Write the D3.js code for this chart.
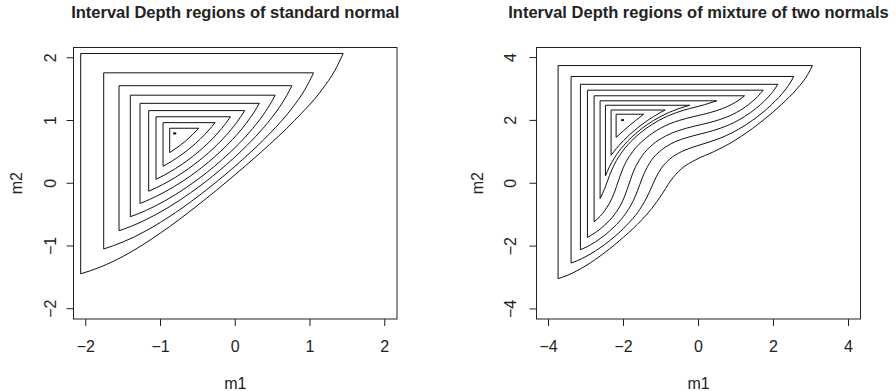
<!DOCTYPE html>
<html>
<head>
<meta charset="utf-8">
<script src="https://cdn.jsdelivr.net/npm/d3@7"></script>
<style>
  body { margin: 0; background: #fff; }
  svg { display: block; }
  text { font-family: "Liberation Sans", Arial, sans-serif; fill: #222; }
</style>
</head>
<body>
<svg id="chart" width="896" height="391"></svg>
<script>
// titles and axis labels
const titles = ["Interval Depth regions of standard normal", "Interval Depth regions of mixture of two normals"];
const xLabel = "m1";
const yLabel = "m2";

// ticks
const normalTicks = [-2, -1, 0, 1, 2];
const mixtureTicks = [-4, -2, 0, 2, 4];

// lower-right boundary of each depth region, (m1, m2), outer to inner
// region = left edge at first m1, top edge at last m2
const normalCurves = [
  [[-2.068,-1.444],[-1.8,-1.334],[-1.5,-1.165],[-1.0,-0.793],[-0.5,-0.349],[-0.069,0.069],[0.349,0.5],[0.793,1.0],[1.165,1.5],[1.334,1.8],[1.444,2.068]],
  [[-1.76,-1.048],[-1.5,-0.935],[-1.2,-0.762],[-0.8,-0.468],[-0.4,-0.119],[-0.136,0.136],[0.119,0.4],[0.468,0.8],[0.762,1.2],[0.935,1.5],[1.048,1.76]],
  [[-1.555,-0.757],[-1.4,-0.69],[-1.2,-0.584],[-0.9,-0.389],[-0.6,-0.154],[-0.207,0.207],[0.154,0.6],[0.389,0.9],[0.584,1.2],[0.69,1.4],[0.757,1.555]],
  [[-1.404,-0.534],[-1.3,-0.487],[-1.1,-0.38],[-0.8,-0.181],[-0.5,0.063],[-0.274,0.274],[-0.063,0.5],[0.181,0.8],[0.38,1.1],[0.487,1.3],[0.534,1.404]],
  [[-1.274,-0.323],[-1.15,-0.261],[-0.95,-0.143],[-0.7,0.035],[-0.5,0.203],[-0.348,0.348],[-0.203,0.5],[-0.035,0.7],[0.143,0.95],[0.261,1.15],[0.323,1.274]],
  [[-1.158,-0.127],[-1.05,-0.068],[-0.9,0.025],[-0.7,0.171],[-0.55,0.298],[-0.421,0.421],[-0.298,0.55],[-0.171,0.7],[-0.025,0.9],[0.068,1.05],[0.127,1.158]],
  [[-1.06,0.063],[-0.95,0.13],[-0.8,0.234],[-0.65,0.354],[-0.497,0.497],[-0.354,0.65],[-0.234,0.8],[-0.13,0.95],[-0.063,1.06]],
  [[-0.966,0.27],[-0.85,0.351],[-0.7,0.472],[-0.582,0.582],[-0.472,0.7],[-0.351,0.85],[-0.27,0.966]],
  [[-0.877,0.487],[-0.78,0.568],[-0.669,0.669],[-0.568,0.78],[-0.487,0.877]]
];
const normalDeepest = [[-0.83, 0.794], [-0.79, 0.794]];

const mixtureCurves = [
  [[-3.745,-3.037],[-3.5,-2.933],[-3.0,-2.621],[-2.5,-2.206],[-2.0,-1.719],[-1.5,-1.148],[-1.25,-0.81],[-1.0,-0.397],[-0.75,0.068],[-0.458,0.458],[-0.068,0.75],[0.397,1.0],[0.81,1.25],[1.148,1.5],[1.719,2.0],[2.206,2.5],[2.621,3.0],[2.933,3.5],[3.037,3.745]],
  [[-3.398,-2.54],[-3.25,-2.473],[-3.0,-2.33],[-2.5,-1.946],[-2.0,-1.436],[-1.5,-0.707],[-1.375,-0.441],[-1.25,-0.119],[-1.125,0.206],[-1.0,0.461],[-0.767,0.767],[-0.461,1.0],[-0.206,1.125],[0.119,1.25],[0.441,1.375],[0.707,1.5],[1.436,2.0],[1.946,2.5],[2.33,3.0],[2.473,3.25],[2.54,3.398]],
  [[-3.149,-2.116],[-3.0,-2.036],[-2.75,-1.864],[-2.5,-1.651],[-2.25,-1.388],[-2.0,-1.056],[-1.75,-0.58],[-1.625,-0.238],[-1.5,0.17],[-1.25,0.741],[-1.023,1.023],[-0.741,1.25],[-0.17,1.5],[0.238,1.625],[0.58,1.75],[1.056,2.0],[1.388,2.25],[1.651,2.5],[1.864,2.75],[2.036,3.0],[2.116,3.149]],
  [[-2.962,-1.725],[-2.75,-1.57],[-2.5,-1.33],[-2.25,-1.008],[-2.0,-0.501],[-1.875,-0.099],[-1.75,0.328],[-1.5,0.879],[-1.227,1.227],[-0.879,1.5],[-0.328,1.75],[0.099,1.875],[0.501,2.0],[1.008,2.25],[1.33,2.5],[1.57,2.75],[1.725,2.962]],
  [[-2.784,-1.228],[-2.625,-1.051],[-2.5,-0.87],[-2.375,-0.636],[-2.25,-0.313],[-2.125,0.116],[-2.0,0.512],[-1.75,1.015],[-1.418,1.418],[-1.015,1.75],[-0.512,2.0],[-0.116,2.125],[0.313,2.25],[0.636,2.375],[0.87,2.5],[1.051,2.625],[1.228,2.784]],
  [[-2.624,-0.487],[-2.5,-0.164],[-2.375,0.243],[-2.25,0.583],[-2.0,1.058],[-1.75,1.39],[-1.576,1.576],[-1.39,1.75],[-1.058,2.0],[-0.583,2.25],[-0.243,2.375],[0.164,2.5],[0.487,2.624]],
  [[-2.482,0.233],[-2.375,0.524],[-2.25,0.793],[-2.0,1.195],[-1.75,1.503],[-1.627,1.627],[-1.503,1.75],[-1.195,2.0],[-0.793,2.25],[-0.524,2.375],[-0.233,2.482]],
  [[-2.331,0.889],[-2.25,1.018],[-2.125,1.196],[-2.0,1.356],[-1.85,1.533],[-1.694,1.694],[-1.533,1.85],[-1.356,2.0],[-1.196,2.125],[-1.018,2.25],[-0.889,2.331]],
  [[-2.197,1.46],[-2.1,1.565],[-2.0,1.673],[-1.839,1.839],[-1.673,2.0],[-1.565,2.1],[-1.46,2.197]]
];
const mixtureDeepest = [[-2.06, 2.01], [-1.99, 2.01]];

const svg = d3.select("#chart");

// one panel = box, ticks, labels, nested regions
function drawPanel(opt) {
  const x = d3.scaleLinear().domain([-opt.lim, opt.lim]).range([opt.left, opt.right]);
  const y = d3.scaleLinear().domain([-opt.lim, opt.lim]).range([319, 47.5]);
  const g = svg.append("g");
  const cx = (opt.left + opt.right) / 2;

  g.append("text")
    .attr("x", cx).attr("y", 18)
    .attr("text-anchor", "middle")
    .style("font-weight", "bold")
    .style("font-size", "16.5px")
    .text(opt.title);

  // contours
  const curve = d3.line()
    .x(d => x(d[0]))
    .y(d => y(d[1]))
    .curve(d3.curveMonotoneX);

  opt.curves.forEach(pts => {
    const a = pts[0][0];
    const top = pts[pts.length - 1][1];
    const d = `M${x(a)},${y(top)}L` + curve(pts).slice(1) + "Z";
    g.append("path")
      .attr("d", d)
      .attr("fill", "none")
      .attr("stroke", "#111")
      .attr("stroke-width", 1);
  });

  g.append("path")
    .attr("d", d3.line().x(d => x(d[0])).y(d => y(d[1]))(opt.deepest))
    .attr("stroke", "#000")
    .attr("stroke-width", 2);

  // box
  g.append("rect")
    .attr("x", opt.left).attr("y", 47.5)
    .attr("width", opt.right - opt.left).attr("height", 319 - 47.5)
    .attr("fill", "none")
    .attr("stroke", "#222")
    .attr("stroke-width", 1);

  // x axis
  const xa = g.append("g").attr("transform", "translate(0,319)");
  xa.selectAll("line").data(opt.ticks).join("line")
    .attr("x1", d => x(d)).attr("x2", d => x(d))
    .attr("y1", 0).attr("y2", 7)
    .attr("stroke", "#222");
  xa.selectAll("text").data(opt.ticks).join("text")
    .attr("x", d => x(d)).attr("y", 33)
    .attr("text-anchor", "middle")
    .style("font-size", "16px")
    .text(d => d < 0 ? "\u2212" + Math.abs(d) : d);

  // y axis
  const ya = g.append("g").attr("transform", `translate(${opt.left},0)`);
  ya.selectAll("line").data(opt.ticks).join("line")
    .attr("x1", 0).attr("x2", -7)
    .attr("y1", d => y(d)).attr("y2", d => y(d))
    .attr("stroke", "#222");
  ya.selectAll("text").data(opt.ticks).join("text")
    .attr("transform", d => `translate(${opt.yTickX - opt.left},${y(d)}) rotate(-90)`)
    .attr("text-anchor", "middle")
    .style("font-size", "16px")
    .text(d => d < 0 ? "\u2212" + Math.abs(d) : d);

  g.append("text")
    .attr("x", cx).attr("y", 389)
    .attr("text-anchor", "middle")
    .style("font-size", "16px")
    .text(xLabel);

  g.append("text")
    .attr("transform", `translate(${opt.yLabelX},${y(0)}) rotate(-90)`)
    .attr("text-anchor", "middle")
    .style("font-size", "16px")
    .text(yLabel);
}

drawPanel({
  title: titles[0], lim: 2.164, left: 73.5, right: 397,
  ticks: normalTicks, curves: normalCurves, deepest: normalDeepest,
  yTickX: 55.5, yLabelX: 21.5
});

drawPanel({
  title: titles[1], lim: 4.32, left: 536.5, right: 860.5,
  ticks: mixtureTicks, curves: mixtureCurves, deepest: mixtureDeepest,
  yTickX: 516, yLabelX: 483
});
</script>
</body>
</html>
